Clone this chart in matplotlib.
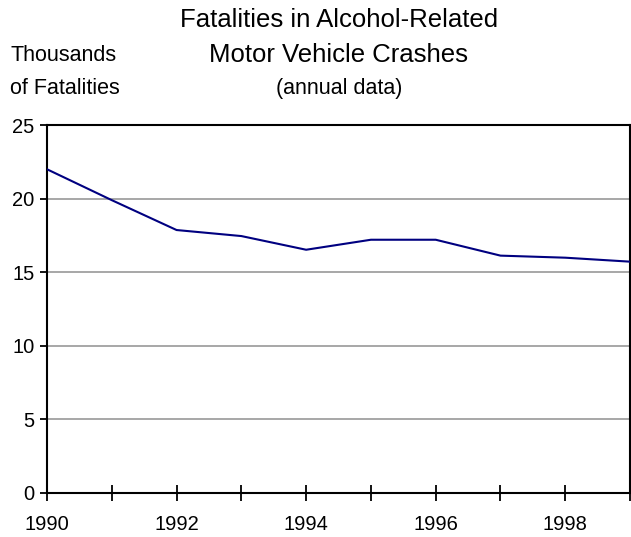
import matplotlib.pyplot as plt

plt.rcParams['font.family'] = ['Liberation Sans', 'DejaVu Sans']

years = [1990, 1991, 1992, 1993, 1994, 1995, 1996, 1997, 1998, 1999]
fatalities = [22.0, 19.9, 17.87, 17.46, 16.53, 17.21, 17.21, 16.13, 15.99, 15.72]
yticks = [0, 5, 10, 15, 20, 25]
xlabels = [1990, 1992, 1994, 1996, 1998]

fig = plt.figure(figsize=(6.31, 5.37), dpi=100)
ax = fig.add_axes([0.0745, 0.082, 0.924, 0.685])

ax.plot(years, fatalities, color='#000080', lw=1.5, zorder=3)

ax.set_xlim(1990, 1999)
ax.set_ylim(0, 25)
ax.set_yticks(yticks)
ax.set_xticks(years)
ax.set_xticklabels([str(y) if y in xlabels else '' for y in years])

for y in yticks[1:-1]:
    ax.axhline(y, color='#a0a0a0', lw=1.3, zorder=1)

for s in ax.spines.values():
    s.set_linewidth(1.5)
    s.set_color('black')

ax.tick_params(axis='y', direction='out', length=5, width=1.3, labelsize=14.5, pad=4)
ax.tick_params(axis='x', direction='inout', length=12, width=1.3, labelsize=14.5, pad=10)

fig.text(0.537, 0.962, 'Fatalities in Alcohol-Related', ha='center', va='center', fontsize=18.5)
fig.text(0.537, 0.897, 'Motor Vehicle Crashes', ha='center', va='center', fontsize=18.5)
fig.text(0.537, 0.835, '(annual data)', ha='center', va='center', fontsize=15.5)
fig.text(0.016, 0.897, 'Thousands', ha='left', va='center', fontsize=15.5)
fig.text(0.016, 0.835, 'of Fatalities', ha='left', va='center', fontsize=15.5)

fig.savefig('out.png', dpi=100)
